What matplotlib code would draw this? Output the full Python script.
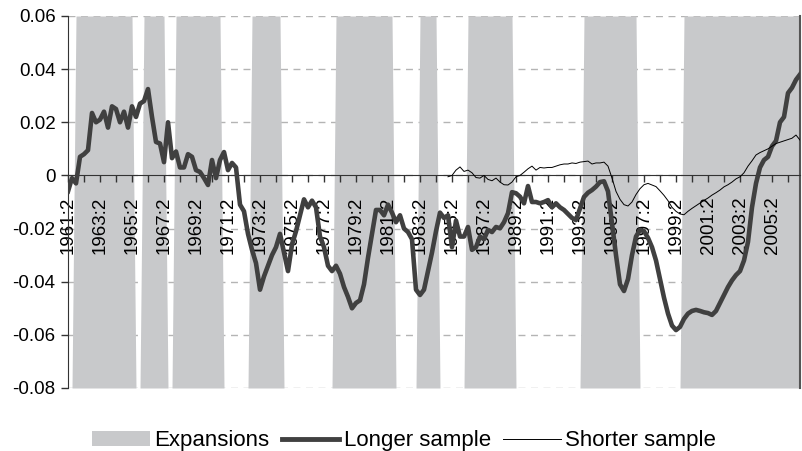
import numpy as np
import matplotlib
matplotlib.use("Agg")
import matplotlib.pyplot as plt
from matplotlib.patches import Patch
from matplotlib.lines import Line2D

plt.rcParams['font.family'] = ['Liberation Sans', 'DejaVu Sans']

# quarterly data, first quarter is 1961:2
start_label = "1961:2"

longer = [
    -0.006, -0.001, -0.003, 0.007, 0.008, 0.0095, 0.0235, 0.020, 0.021, 0.024,
    0.018, 0.026, 0.025, 0.020, 0.024, 0.018, 0.026, 0.022, 0.027, 0.028,
    0.0325, 0.022, 0.0126, 0.012, 0.005, 0.020, 0.0065, 0.009, 0.003, 0.003,
    0.008, 0.007, 0.002, 0.0013, -0.001, -0.0036, 0.0058, -0.001, 0.0058, 0.0088,
    0.002, 0.0047, 0.003, -0.011, -0.0135, -0.022, -0.028, -0.033, -0.043, -0.038,
    -0.034, -0.030, -0.027, -0.022, -0.029, -0.036, -0.026, -0.021, -0.015, -0.009,
    -0.012, -0.0095, -0.012, -0.023, -0.027, -0.034, -0.036, -0.034, -0.037, -0.042,
    -0.0457, -0.050, -0.048, -0.047, -0.041, -0.031, -0.022, -0.013, -0.013, -0.015,
    -0.011, -0.014, -0.0176, -0.015, -0.020, -0.0213, -0.024, -0.043, -0.045, -0.043,
    -0.036, -0.029, -0.021, -0.014, -0.016, -0.015, -0.027, -0.017, -0.023, -0.023,
    -0.0194, -0.028, -0.027, -0.023, -0.024, -0.0205, -0.0213, -0.0194, -0.0199, -0.0176,
    -0.0142, -0.0063, -0.0067, -0.008, -0.0105, -0.004, -0.010, -0.010, -0.0105, -0.010,
    -0.0093, -0.012, -0.0105, -0.012, -0.013, -0.0145, -0.016, -0.0168, -0.0124, -0.0081,
    -0.0065, -0.0055, -0.0042, -0.0025, -0.0022, -0.006, -0.018, -0.030, -0.041, -0.0435,
    -0.039, -0.030, -0.023, -0.0205, -0.021, -0.0235, -0.027, -0.032, -0.039, -0.046,
    -0.052, -0.0565, -0.0582, -0.057, -0.054, -0.052, -0.051, -0.0506, -0.051, -0.0515,
    -0.0518, -0.0525, -0.051, -0.048, -0.045, -0.042, -0.0395, -0.0375, -0.036, -0.032,
    -0.025, -0.012, -0.003, 0.003, 0.0058, 0.007, 0.011, 0.013, 0.020, 0.022,
    0.031, 0.033, 0.036, 0.038,
]

# shorter sample begins in 1985:1
shorter_start = "1985:1"
shorter = [
    -0.0005, 0.000, 0.002, 0.0032, 0.0015, 0.002, 0.001, -0.0008, -0.001, 0.000,
    -0.0015, -0.002, -0.001, -0.0025, -0.0035, -0.0036, -0.0025, -0.0005, 0.000, 0.0012,
    0.0025, 0.0035, 0.002, 0.003, 0.0028, 0.003, 0.003, 0.0035, 0.004, 0.0043,
    0.0043, 0.0047, 0.0045, 0.005, 0.0052, 0.0054, 0.0043, 0.0047, 0.0047, 0.005,
    0.0035, -0.001, -0.006, -0.009, -0.011, -0.0115, -0.010, -0.0072, -0.005, -0.0035,
    -0.003, -0.0036, -0.0042, -0.0058, -0.0075, -0.0095, -0.012, -0.0135, -0.0145, -0.0148,
    -0.0135, -0.0124, -0.0114, -0.0104, -0.0094, -0.0085, -0.0074, -0.0065, -0.0055, -0.0043,
    -0.0035, -0.0025, -0.0013, -0.0005, 0.001, 0.0035, 0.0055, 0.0077, 0.0086, 0.0093,
    0.010, 0.011, 0.012, 0.0125, 0.013, 0.0135, 0.014, 0.0152, 0.0133,
]

expansions = [
    ("1961:4", "1965:2"), ("1966:1", "1967:2"), ("1968:1", "1970:4"),
    ("1972:4", "1974:3"), ("1978:1", "1981:3"), ("1983:2", "1984:2"),
    ("1986:2", "1989:1"), ("1993:3", "1996:4"), ("1999:4", "2007:1"),
]

tick_labels = ["1961:2", "1963:2", "1965:2", "1967:2", "1969:2", "1971:2",
               "1973:2", "1975:2", "1977:2", "1979:2", "1981:2", "1983:2",
               "1985:2", "1987:2", "1989:2", "1991:2", "1993:2", "1995:2",
               "1997:2", "1999:2", "2001:2", "2003:2", "2005:2"]

y_ticks = [0.06, 0.04, 0.02, 0, -0.02, -0.04, -0.06, -0.08]
y_tick_labels = ["0.06", "0.04", "0.02", "0", "-0.02", "-0.04", "-0.06", "-0.08"]


def q_index(s):
    y, q = s.split(":")
    y0, q0 = start_label.split(":")
    return (int(y) - int(y0)) * 4 + int(q) - int(q0)


t = np.arange(len(longer))
t_short = np.arange(len(shorter)) + q_index(shorter_start)

ymin, ymax = -0.08, 0.06
flag = np.zeros(len(t))
for a, b in expansions:
    flag[q_index(a):q_index(b) + 1] = 1

shade = '#c8c9cb'
fig = plt.figure(figsize=(8.02, 4.51), dpi=100)
ax = fig.add_axes([68 / 802, 63 / 451, 732 / 802, 372 / 451])

ax.fill_between(t, ymin, ymin + flag * (ymax - ymin), color=shade, lw=0, zorder=1)
ax.plot(t, longer, color='#404040', lw=3.3, zorder=4, solid_joinstyle='round')
ax.plot(t_short, shorter, color='black', lw=0.7, zorder=5)

ax.set_xlim(0, len(t) - 1)
ax.set_ylim(ymin, ymax)

ax.set_yticks(y_ticks)
ax.set_yticklabels(y_tick_labels)
ax.yaxis.grid(True, color='#b4b4b4', linestyle=(0, (5, 4)), lw=1)
ax.yaxis.set_zorder(0.5)

ax.set_xticks([q_index(s) for s in tick_labels])
ax.set_xticklabels(tick_labels)
ax.set_xticks(np.arange(0, len(t), 4), minor=True)
ax.tick_params(axis='x', which='both', direction='out', length=5, width=1,
               color='#333333', pad=10)
ax.tick_params(axis='x', which='major', labelrotation=90, labelsize=13.5)
ax.tick_params(axis='y', direction='out', length=5, width=1, color='#333333',
               pad=4, labelsize=13.5)
# labels above the shading, below the lines
ax.xaxis.set_zorder(2)

ax.spines['bottom'].set_position(('data', 0))
ax.spines['bottom'].set_color('#333333')
ax.spines['bottom'].set_zorder(3)
ax.spines['left'].set_color('#333333')
ax.spines['top'].set_visible(False)
ax.spines['right'].set_color('#555555')
ax.spines['right'].set_linewidth(1.5)

handles = [Patch(facecolor=shade, edgecolor='none'),
           Line2D([], [], color='#404040', lw=3.5),
           Line2D([], [], color='black', lw=0.7)]
fig.legend(handles, ['Expansions', 'Longer sample', 'Shorter sample'],
           loc='lower center', bbox_to_anchor=(0.504, -0.045), ncol=3,
           frameon=False, fontsize=16, handlelength=2.6, handletextpad=0.2,
           columnspacing=0.55)

plt.savefig('out.png', dpi=100)
